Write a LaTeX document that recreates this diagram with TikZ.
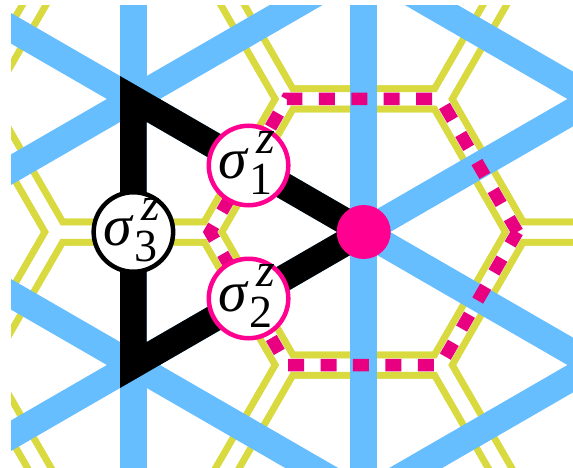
\documentclass[tikz,border=0pt]{standalone}
\usepackage{fontspec}
\setmainfont{Liberation Serif}
\usetikzlibrary{calc}
\definecolor{lblue}{RGB}{102,190,255}
\definecolor{lyel}{RGB}{217,217,64}
\definecolor{mag}{RGB}{255,0,144}
\definecolor{magd}{RGB}{232,0,128}
\newcommand{\sigtext}[1]{\makebox[31pt][l]{\itshape σ}\rlap{\kern7pt\raisebox{25pt}{\fontsize{48}{48}\selectfont\itshape z}}\raisebox{-16pt}{\fontsize{46}{46}\selectfont #1}}
\begin{document}
\begin{tikzpicture}[x=1pt,y=-1pt,
  honey/.style={draw=lyel, line width=27pt},
  honeyin/.style={draw=white, line width=13pt},
  bluebar/.style={draw=lblue, line width=26.5pt},
  tri/.style={draw=black, line width=26.5pt, line join=miter},
  dashpath/.style={draw=magd, line width=12.5pt, dash pattern=on 16pt off 16.4pt},
  site/.style={circle, fill=white, line width=4.5pt, minimum size=79.5pt, inner sep=0pt},
  dot/.style={circle, fill=mag, minimum size=54pt, inner sep=0pt},
  lab/.style={anchor=base west, inner sep=0pt, font=\fontsize{58}{58}\selectfont}]
\useasboundingbox (0,0) rectangle (573,468);
\begin{scope}
\clip (11,6) rectangle (573,468);
% honeycomb (yellow double lines)
\foreach \i in {-3,...,3}{
  \foreach \j in {-2,...,2}{
    \pgfmathsetmacro\cx{363.7+\j*230.3}
    \pgfmathsetmacro\cy{232+\j*133+\i*266}
    \draw[honey] (\cx+153.6,\cy) -- (\cx+76.8,\cy-133) -- (\cx-76.8,\cy-133) -- (\cx-153.6,\cy) -- (\cx-76.8,\cy+133) -- (\cx+76.8,\cy+133) -- cycle;
  }
}
\foreach \i in {-3,...,3}{
  \foreach \j in {-2,...,2}{
    \pgfmathsetmacro\cx{363.7+\j*230.3}
    \pgfmathsetmacro\cy{232+\j*133+\i*266}
    \draw[honeyin] (\cx+153.6,\cy) -- (\cx+76.8,\cy-133) -- (\cx-76.8,\cy-133) -- (\cx-153.6,\cy) -- (\cx-76.8,\cy+133) -- (\cx+76.8,\cy+133) -- cycle;
  }
}
% blue lines
\foreach \j in {-1,0,1}{
  \pgfmathsetmacro\lx{363.7+\j*230.3}
  \draw[bluebar] (\lx,-60) -- (\lx,530);
}
\foreach \i in {-2,...,2}{
  \pgfmathsetmacro\ly{232+\i*266}
  \draw[bluebar] (-336.3,\ly-404.3) -- (1063.7,\ly+404.3);
  \draw[bluebar] (-336.3,\ly+404.3) -- (1063.7,\ly-404.3);
}
% black triangle
\coordinate (A) at (133.4,99);
\coordinate (B) at (363.7,232);
\coordinate (C) at (133.4,365);
\draw[tri] (A) -- (B) -- (C) -- cycle;
% magenta dashed hexagon
\coordinate (V0) at (517.3,232);
\coordinate (V60) at (440.5,99);
\coordinate (V120) at (286.9,99);
\coordinate (V180) at (210.1,232);
\coordinate (V240) at (286.9,365);
\coordinate (V300) at (440.5,365);
\draw[dashpath] (V0) -- (V60) -- (V120) -- (V180) -- (V240) -- (V300) -- cycle;
\end{scope}
\node[dot] (d) at (B) {};
\node[site, draw=black] (s3) at (133.4,232) {};
\node[site, draw=mag] (s1) at (248.55,165.5) {};
\node[site, draw=mag] (s2) at (248.55,298.5) {};
\node[lab] (l3) at ($(s3)+(-30,13)$) {\sigtext{3}};
\node[lab] (l1) at ($(s1)+(-30,13)$) {\sigtext{1}};
\node[lab] (l2) at ($(s2)+(-30,13)$) {\sigtext{2}};
\end{tikzpicture}
\end{document}
